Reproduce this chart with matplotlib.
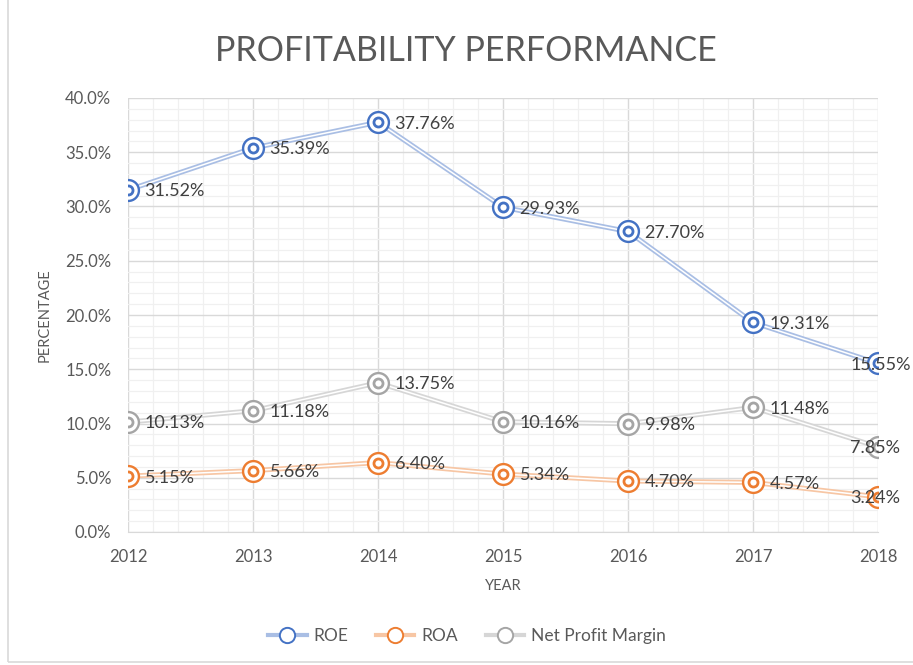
import matplotlib

matplotlib.use("Agg")
import matplotlib.pyplot as plt
from matplotlib.patches import Rectangle
from matplotlib.ticker import FuncFormatter, MultipleLocator
from matplotlib.transforms import offset_copy

years = [2012, 2013, 2014, 2015, 2016, 2017, 2018]
roe = [31.52, 35.39, 37.76, 29.93, 27.70, 19.31, 15.55]
roa = [5.15, 5.66, 6.40, 5.34, 4.70, 4.57, 3.24]
npm = [10.13, 11.18, 13.75, 10.16, 9.98, 11.48, 7.85]

series = [
    ("ROE", roe, "#4472C4", "#A9BEE4"),
    ("ROA", roa, "#ED7D31", "#F7C6A4"),
    ("Net Profit Margin", npm, "#A5A5A5", "#D6D6D6"),
]

plt.rcParams["font.family"] = ["Lato", "DejaVu Sans"]
TEXT = "#595959"

fig = plt.figure(figsize=(9.13, 6.65), dpi=100)
fig.patches.append(Rectangle((8 / 913, 0.005), 1.0, 1.0, transform=fig.transFigure,
                             fill=False, edgecolor="#D9D9D9", linewidth=1.2))
ax = fig.add_axes([128 / 913, 1 - 532 / 665, 750 / 913, 434 / 665])

for name, vals, col, light in series:
    # Excel "double" line: light wide stroke with white core
    ax.plot(years, vals, color=light, lw=3.6, zorder=3)
    ax.plot(years, vals, color="white", lw=1.1, zorder=3.1)
    ax.plot(years, vals, ls="none", marker="o", ms=15, mfc="white", mec=col, mew=1.7, zorder=4)
    ax.plot(years, vals, ls="none", marker="o", ms=6.5, mfc="white", mec=col, mew=2.0, zorder=4.1)
    for x, y in zip(years, vals):
        dx = -20 if x == years[-1] else 12
        tr = offset_copy(ax.transData, fig=fig, x=dx, y=-1, units="points")
        ax.text(x, y, f"{y:.2f}%", transform=tr, ha="left", va="center",
                fontsize=13, color="#404040", zorder=5, clip_on=False)

ax.set_xlim(2012, 2018)
ax.set_ylim(0, 40)
ax.yaxis.set_major_locator(MultipleLocator(5))
ax.yaxis.set_minor_locator(MultipleLocator(1))
ax.xaxis.set_major_locator(MultipleLocator(1))
ax.xaxis.set_minor_locator(MultipleLocator(0.2))
ax.yaxis.set_major_formatter(FuncFormatter(lambda v, p: f"{v:.1f}%"))
ax.grid(which="major", color="#D9D9D9", lw=1.0, zorder=0)
ax.grid(which="minor", color="#F0F0F0", lw=0.9, zorder=0)
ax.set_axisbelow(True)
for s in ax.spines.values():
    s.set_visible(False)
ax.spines["bottom"].set_visible(True)
ax.spines["bottom"].set_color("#D9D9D9")
ax.tick_params(which="both", length=0, labelsize=12, labelcolor=TEXT)
ax.tick_params(axis="x", pad=12)
ax.tick_params(axis="y", pad=12)

ax.set_xlabel("YEAR", fontsize=10.5, color=TEXT, labelpad=10)
ax.set_ylabel("PERCENTAGE", fontsize=10.5, color=TEXT, labelpad=10)

fig.text(466 / 913, 1 - 51 / 665, "PROFITABILITY PERFORMANCE", ha="center", va="center",
         fontsize=24.5, color=TEXT)

handles = []
for name, vals, col, light in series:
    h, = ax.plot([], [], color=light, lw=3.0, marker="o", ms=11, mfc="white", mec=col, mew=1.4)
    handles.append(h)
fig.legend(handles, [s[0] for s in series], loc="center", bbox_to_anchor=(467 / 913, 1 - 636 / 665),
           ncol=3, frameon=False, fontsize=12.5, labelcolor=TEXT, handlelength=2.2,
           columnspacing=1.6, handletextpad=0.4)

fig.savefig("out.png", dpi=100)
